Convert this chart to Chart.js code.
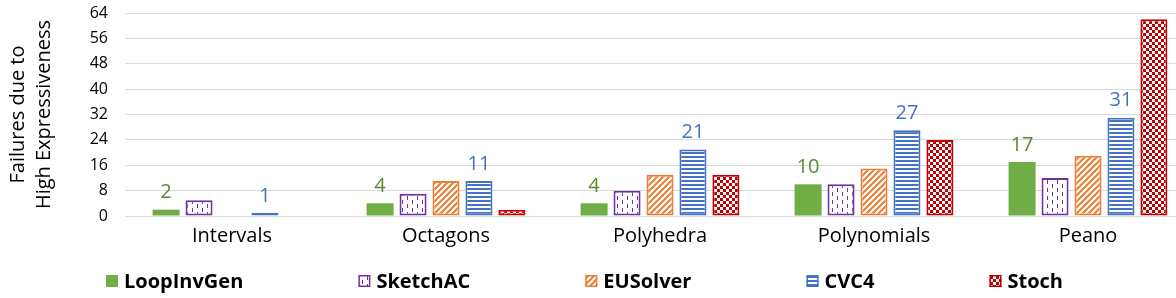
<!DOCTYPE html>
<html>
<head>
<meta charset="utf-8">
<script src="https://cdn.jsdelivr.net/npm/chart.js@4.4.1/dist/chart.umd.min.js"></script>
<style>
  html, body { margin: 0; padding: 0; background: #fff; }
  #wrap { width: 1176px; height: 298px; overflow: hidden; }
  canvas { display: block; }
</style>
</head>
<body>
<div id="wrap"><canvas id="chart" width="1196" height="298"></canvas></div>
<script>
// data
const categories = ['Intervals', 'Octagons', 'Polyhedra', 'Polynomials', 'Peano'];
const loopInvGen = [2, 4, 4, 10, 17];
const sketchAC = [5, 7, 8, 10, 12];
const euSolver = [0, 11, 13, 15, 19];
const cvc4 = [1, 11, 21, 27, 31];
const stoch = [0, 2, 13, 24, 62];
const yTicks = [0, 8, 16, 24, 32, 40, 48, 56, 64];

const FONT = '"Open Sans", "DejaVu Sans", sans-serif';

// small pattern tiles, like the Excel fills
function makePattern(kind, color) {
    const c = document.createElement('canvas');
    const g = c.getContext('2d');
    if (kind === 'vdash') {
        c.width = 10; c.height = 8;
        g.fillStyle = '#fff'; g.fillRect(0, 0, 10, 8);
        g.fillStyle = color;
        g.fillRect(2, 0, 1, 4);
        g.fillRect(7, 4, 1, 4);
    } else if (kind === 'diag') {
        c.width = 6; c.height = 6;
        g.fillStyle = '#fff'; g.fillRect(0, 0, 6, 6);
        g.strokeStyle = color; g.lineWidth = 2;
        g.beginPath();
        g.moveTo(-1, 7); g.lineTo(7, -1);
        g.moveTo(-4, 4); g.lineTo(4, -4);
        g.moveTo(2, 10); g.lineTo(10, 2);
        g.stroke();
    } else if (kind === 'hline') {
        c.width = 4; c.height = 4;
        g.fillStyle = '#fff'; g.fillRect(0, 0, 4, 4);
        g.fillStyle = color; g.fillRect(0, 0, 4, 2);
    } else if (kind === 'checker') {
        c.width = 6; c.height = 6;
        g.fillStyle = '#fff'; g.fillRect(0, 0, 6, 6);
        g.fillStyle = color;
        g.fillRect(0, 0, 3, 3);
        g.fillRect(3, 3, 3, 3);
    }
    return g.createPattern(c, 'repeat');
}

const canvas = document.getElementById('chart');
const ctx = canvas.getContext('2d');

const colors = {
    green: '#70AD47',
    purple: '#7030A0',
    orange: '#ED7D31',
    blue: '#4472C4',
    red: '#C00000'
};

// value labels above the LoopInvGen and CVC4 bars
const valueLabels = {
    id: 'valueLabels',
    afterDatasetsDraw(chart) {
        const c = chart.ctx;
        c.save();
        c.font = '20px ' + FONT;
        c.textAlign = 'center';
        c.textBaseline = 'bottom';
        chart.data.datasets.forEach((ds, i) => {
            if (!ds.valueColor) return;
            const meta = chart.getDatasetMeta(i);
            c.fillStyle = ds.valueColor;
            meta.data.forEach((bar, j) => {
                c.fillText(String(ds.data[j]), bar.x, bar.y - 7);
            });
        });
        c.restore();
    }
};

// legend row along the bottom, spread from the first swatch to the last label
const bottomLegend = {
    id: 'bottomLegend',
    afterDraw(chart) {
        const c = chart.ctx;
        const startX = 106, endX = 1063, cy = 281, box = 12, gapText = 6;
        c.save();
        c.font = 'bold 20px ' + FONT;
        c.textBaseline = 'middle';
        const items = chart.data.datasets.map(ds => ({
            ds, w: box + gapText + c.measureText(ds.label).width
        }));
        const total = items.reduce((a, it) => a + it.w, 0);
        const gap = (endX - startX - total) / (items.length - 1);
        let x = startX;
        items.forEach(({ ds, w }) => {
            c.fillStyle = ds.backgroundColor;
            c.fillRect(x, cy - box / 2, box, box);
            if (ds.borderWidth) {
                c.strokeStyle = ds.borderColor;
                c.lineWidth = 1.5;
                c.strokeRect(x + 0.75, cy - box / 2 + 0.75, box - 1.5, box - 1.5);
            }
            c.fillStyle = '#000';
            c.fillText(ds.label, x + box + gapText, cy + 1);
            x += w + gap;
        });
        c.restore();
    }
};

const barStyle = {
    categoryPercentage: 0.77,
    barPercentage: 0.82,
    borderSkipped: false
};

new Chart(ctx, {
    type: 'bar',
    data: {
        labels: categories,
        datasets: [
            {
                label: 'LoopInvGen',
                data: loopInvGen,
                backgroundColor: colors.green,
                borderWidth: 0,
                valueColor: '#5A8A30',
                ...barStyle
            },
            {
                label: 'SketchAC',
                data: sketchAC,
                backgroundColor: makePattern('vdash', colors.purple),
                borderColor: colors.purple,
                borderWidth: 2,
                ...barStyle
            },
            {
                label: 'EUSolver',
                data: euSolver,
                backgroundColor: makePattern('diag', colors.orange),
                borderColor: colors.orange,
                borderWidth: 2,
                ...barStyle
            },
            {
                label: 'CVC4',
                data: cvc4,
                backgroundColor: makePattern('hline', colors.blue),
                borderColor: colors.blue,
                borderWidth: 2,
                valueColor: colors.blue,
                ...barStyle
            },
            {
                label: 'Stoch',
                data: stoch,
                backgroundColor: makePattern('checker', colors.red),
                borderColor: colors.red,
                borderWidth: 2,
                ...barStyle
            }
        ]
    },
    options: {
        responsive: false,
        animation: false,
        devicePixelRatio: 1,
        layout: {
            padding: { top: 13, right: 1, bottom: 42, left: 0 }
        },
        plugins: {
            legend: { display: false },
            tooltip: { enabled: false }
        },
        scales: {
            x: {
                grid: { display: false },
                border: { display: true, color: '#d9d9d9', width: 1 },
                afterFit: (scale) => {
                    scale.height = 40;
                },
                ticks: {
                    color: '#000',
                    font: { family: FONT, size: 20 },
                    padding: 0
                }
            },
            y: {
                min: 0,
                max: 64,
                afterBuildTicks: (scale) => {
                    scale.ticks = yTicks.map(v => ({ value: v }));
                },
                afterFit: (scale) => {
                    scale.width = 125;
                    scale.paddingTop = 0;
                    scale.paddingBottom = 0;
                },
                grid: { color: '#d9d9d9', drawTicks: false },
                border: { display: false },
                ticks: {
                    autoSkip: false,
                    color: '#000',
                    font: { family: FONT, size: 16 },
                    padding: 17
                },
                title: {
                    display: true,
                    text: ['Failures due to', 'High Expressiveness'],
                    color: '#000',
                    font: { family: FONT, size: 20, lineHeight: 1.3 },
                    padding: { top: 5, bottom: 0 }
                }
            }
        }
    },
    plugins: [valueLabels, bottomLegend]
});
</script>
</body>
</html>
